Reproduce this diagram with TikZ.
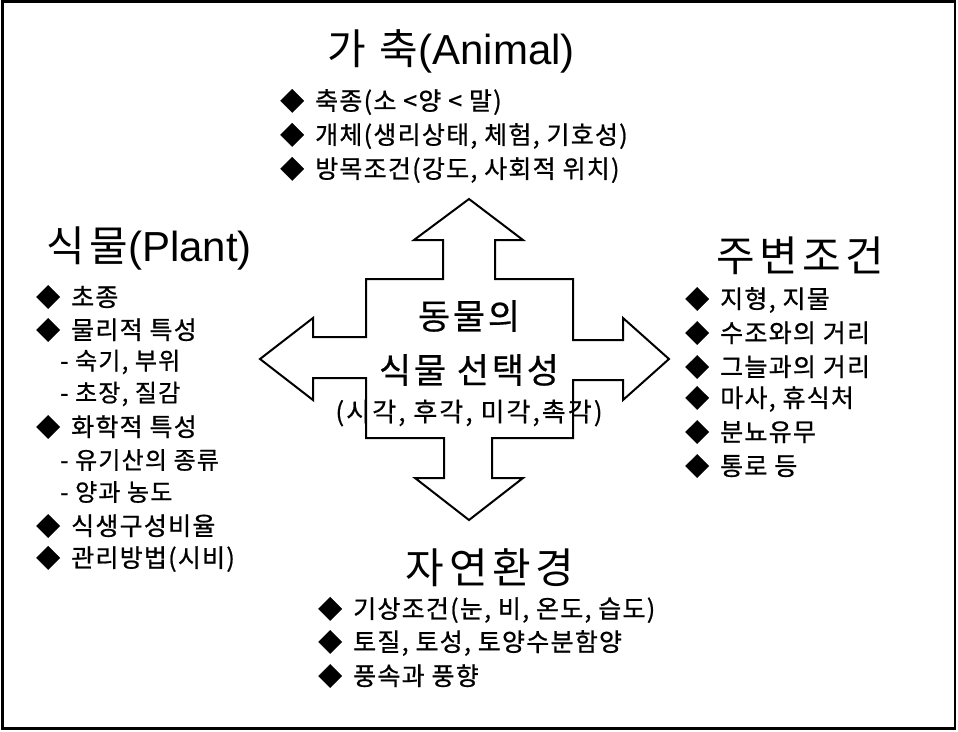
\documentclass[tikz,border=0pt]{standalone}
\usepackage{fontspec}
\setmainfont{Noto Sans CJK KR}
\newfontfamily\itemfont[LetterSpace=5,FakeBold=0.8]{Noto Sans CJK KR}
\newfontfamily\titlefont[LetterSpace=11]{Noto Sans CJK KR}
\newfontfamily\centfont[LetterSpace=8,FakeBold=0.5]{Noto Sans CJK KR}
\newfontfamily\latfont{Liberation Sans}
\tikzset{
  title/.style={inner sep=0pt, font=\titlefont\fontsize{42}{46}\selectfont},
  item/.style={inner sep=0pt, anchor=west, font=\itemfont\fontsize{25}{28}\selectfont},
  sub/.style={inner sep=0pt, anchor=west, font=\itemfont\fontsize{24}{28}\selectfont},
  center/.style={inner sep=0pt, font=\centfont\fontsize{35}{38}\selectfont},
  centersmall/.style={inner sep=0pt, font=\centfont\fontsize{26}{30}\selectfont},
  cross/.style={draw=black, line width=2pt, fill=white, line join=miter},
  frame/.style={draw=black, line width=2.5pt}
}
\newcommand{\dia}{{\fontsize{24}{24}\selectfont ◆}\hspace{11pt}}
\begin{document}
\begin{tikzpicture}[x=1pt,y=-1pt]
\useasboundingbox (0,0) rectangle (958,731);
\draw[frame] (2.5,1.5) rectangle (955,728.5);
% cross arrow
\draw[cross] (469,199) -- (523,240) -- (495,240) -- (495,279) -- (573,279) -- (573,340)
  -- (623,340) -- (623,318) -- (669,359) -- (623,400) -- (623,380) -- (573,380)
  -- (573,438) -- (492,438) -- (492,478) -- (523,478) -- (469,520) -- (415,478)
  -- (444,478) -- (444,438) -- (366,438) -- (366,378) -- (313,378) -- (313,400)
  -- (260,359) -- (313,318) -- (313,337) -- (366,337) -- (366,279) -- (443,279)
  -- (443,240) -- (414,240) -- cycle;
\coordinate (crossc) at (469,359);
% centre text
\node[center] (c1) at (469,316) {동물의};
\node[center] (c2) at (469,370) {식물 선택성};
\node[centersmall] (c3) at (469,413) {(시각, 후각, 미각,촉각)};
% top
\node[title] (tA) at (451,51) {가 축{\latfont(Animal)}};
\node[item] (a1) at (280,102) {\dia 축종(소 <양 < 말)};
\node[item] (a2) at (280,136) {\dia 개체(생리상태, 체험, 기호성)};
\node[item] (a3) at (280,170) {\dia 방목조건(강도, 사회적 위치)};
% left
\node[title, anchor=west] (tP) at (46,248) {식물{\latfont(Plant)}};
\node[item] (p1) at (36,297) {\dia 초종};
\node[item] (p2) at (36,330) {\dia 물리적 특성};
\node[sub] (p3) at (60,362) {- 숙기, 부위};
\node[sub] (p4) at (60,394) {- 초장, 질감};
\node[item] (p5) at (36,427) {\dia 화학적 특성};
\node[sub] (p6) at (60,460) {- 유기산의 종류};
\node[sub] (p7) at (60,492) {- 양과 농도};
\node[item] (p8) at (36,526) {\dia 식생구성비율};
\node[item] (p9) at (36,559) {\dia 관리방법(시비)};
% right
\node[title, anchor=west] (tR) at (716,256) {주변조건};
\node[item] (r1) at (685,300) {\dia 지형, 지물};
\node[item] (r2) at (685,333) {\dia 수조와의 거리};
\node[item] (r3) at (685,367) {\dia 그늘과의 거리};
\node[item] (r4) at (685,399) {\dia 마사, 휴식처};
\node[item] (r5) at (685,432) {\dia 분뇨유무};
\node[item] (r6) at (685,466) {\dia 통로 등};
% bottom
\node[title] (tN) at (490,568) {자연환경};
\node[item] (n1) at (318,610) {\dia 기상조건(눈, 비, 온도, 습도)};
\node[item] (n2) at (318,643) {\dia 토질, 토성, 토양수분함양};
\node[item] (n3) at (318,676) {\dia 풍속과 풍향};
\end{tikzpicture}
\end{document}
